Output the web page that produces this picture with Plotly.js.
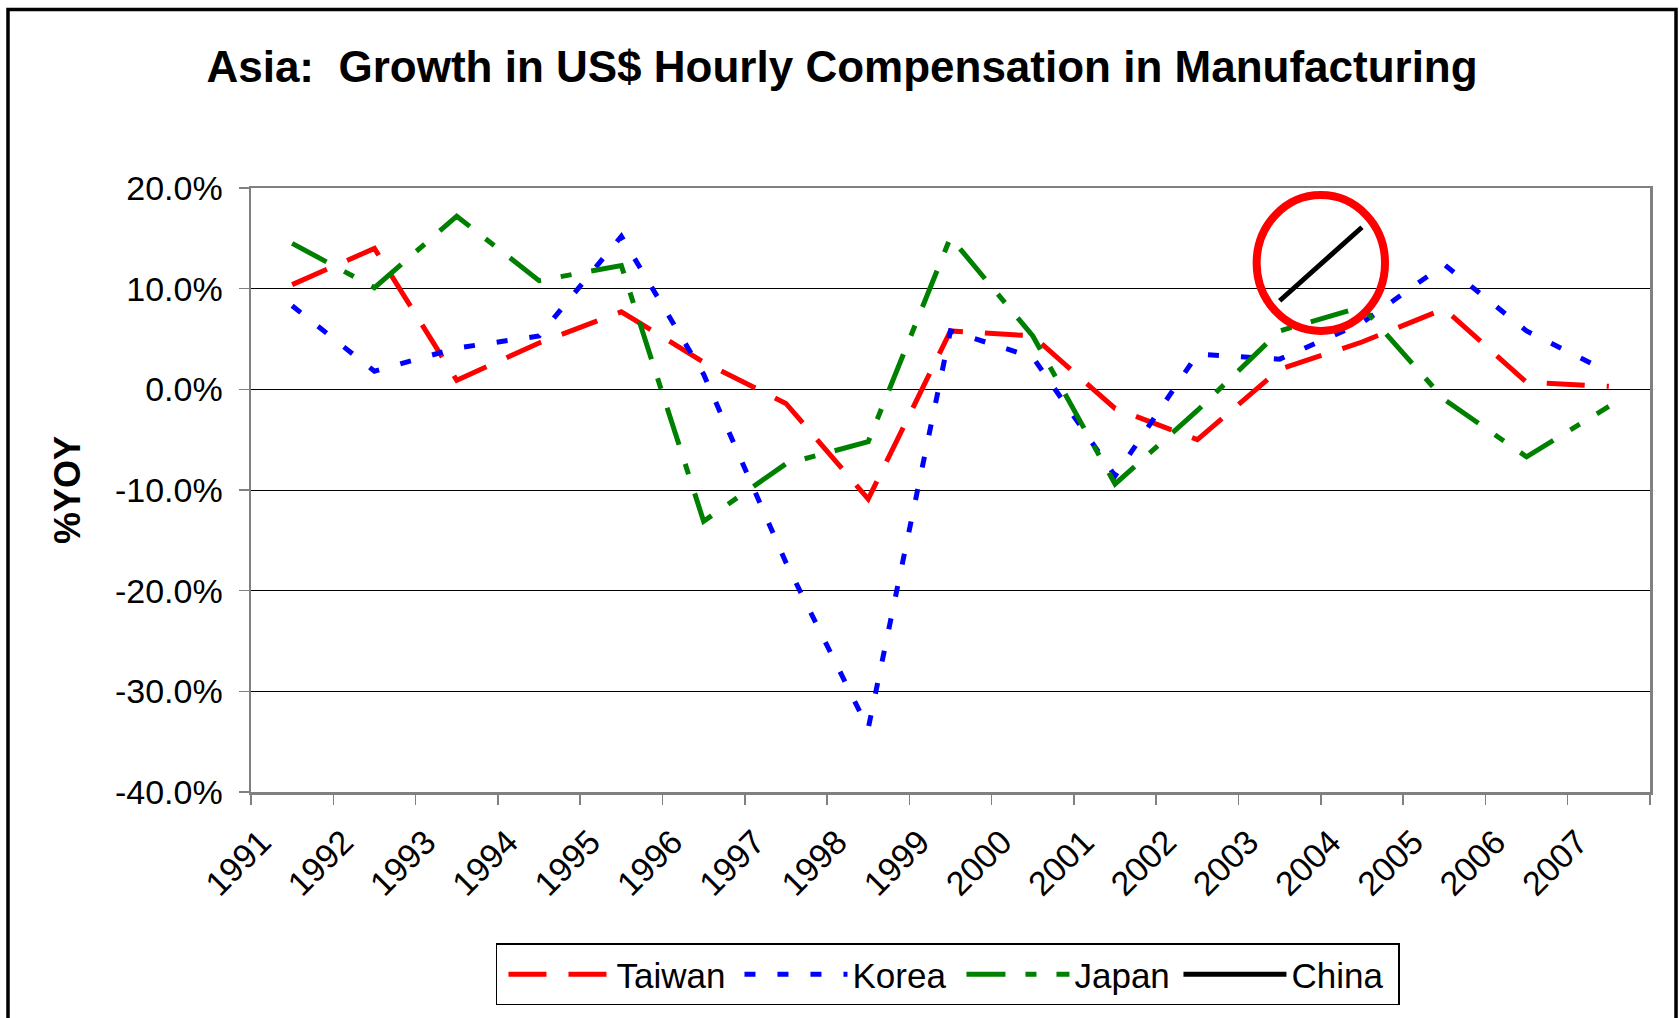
<!DOCTYPE html>
<html>
<head>
<meta charset="utf-8">
<script src="https://cdn.plot.ly/plotly-3.0.1.min.js"></script>
<style>
  html, body { margin: 0; padding: 0; background: #ffffff; }
  #chart { width: 1679px; height: 1018px; }
</style>
</head>
<body>
<div id="chart"></div>
<script>
// ---- data (percent YoY growth) ----
var years = ['1991','1992','1993','1994','1995','1996','1997','1998','1999','2000','2001','2002','2003','2004','2005','2006','2007'];
var taiwan = [10.4, 14.0, 0.9, 4.6, 7.7, 2.7, -1.4, -10.9, 5.8, 5.3, -1.9, -5.0, 2.0, 4.7, 8.0, 0.7, 0.3];
var korea  = [8.3, 1.8, 4.1, 5.3, 15.2, 1.5, -17.2, -33.7, 5.8, 3.2, -8.6, 3.5, 3.0, 6.6, 12.4, 5.8, 1.7];
var japan  = [14.5, 10.1, 17.2, 10.8, 12.3, -13.1, -7.4, -5.2, 15.1, 5.3, -9.4, -2.1, 5.8, 8.2, -1.0, -6.7, -1.7];
var china  = [null, null, null, null, null, null, null, null, null, null, null, null, 8.8, 16.1, null, null, null];

var yTickVals = [-40, -30, -20, -10, 0, 10, 20];
var yTickText = ['-40.0%', '-30.0%', '-20.0%', '-10.0%', '0.0%', '10.0%', '20.0%'];

var FONT = '"Liberation Sans", Arial, sans-serif';

function series(name, ys, color, dash, lw) {
  return {
    type: 'scatter', mode: 'lines', name: name,
    x: years, y: ys,
    connectgaps: false,
    line: { color: color, width: 5, dash: dash },
    legendwidth: lw,
    hoverinfo: 'skip'
  };
}

var traces = [
  series('Taiwan', taiwan, '#ff0000', '38px,22px', 112),
  series('Korea', korea, '#0000ff', '11px,22px', 98),
  series('Japan', japan, '#008000', '39px,20px,11px,20px', 93),
  series('China', china, '#000000', 'solid', 102)
];

var layout = {
  width: 1679, height: 1018,
  margin: { l: 251, r: 29, t: 188, b: 224 },
  paper_bgcolor: '#ffffff', plot_bgcolor: '#ffffff',
  font: { family: FONT, color: '#000000', size: 34 },
  showlegend: true,
  title: {
    text: '<b>Asia:  Growth in US$ Hourly Compensation in Manufacturing</b>',
    font: { family: FONT, size: 44, color: '#000000' },
    xref: 'container', yref: 'container',
    x: 0.5015, xanchor: 'center',
    y: 0.935, yanchor: 'middle'
  },
  xaxis: {
    type: 'category',
    range: [-0.5, 16.5],
    tickson: 'boundaries',
    ticks: 'outside', ticklen: 10, tickwidth: 1.5, tickcolor: '#808080',
    tickangle: -45,
    tickfont: { family: FONT, size: 34, color: '#000000' },
    ticklabelstandoff: 14,
    ticklabelshift: -31,
    showgrid: false,
    showline: true, linecolor: '#808080', linewidth: 2.5, mirror: true,
    zeroline: false,
    fixedrange: true
  },
  yaxis: {
    range: [-40, 20],
    tickvals: yTickVals, ticktext: yTickText,
    ticks: 'outside', ticklen: 10, tickwidth: 1.5, tickcolor: '#808080',
    tickfont: { family: FONT, size: 34, color: '#000000' },
    ticklabelstandoff: 9,
    showgrid: true, gridcolor: '#000000', gridwidth: 1,
    showline: true, linecolor: '#808080', linewidth: 2.5, mirror: true,
    zeroline: false,
    title: { text: '<b>%YOY</b>', font: { family: FONT, size: 36, color: '#000000' }, standoff: 24 },
    fixedrange: true
  },
  legend: {
    orientation: 'h',
    x: 0.1751, xanchor: 'left',
    y: -0.2508, yanchor: 'top',
    bordercolor: '#000000', borderwidth: 1.5,
    bgcolor: '#ffffff',
    font: { family: FONT, size: 35, color: '#000000' },
    itemwidth: 103,
    indentation: 6,
    traceorder: 'normal'
  },
  shapes: [
    // outer chart frame
    { type: 'rect', xref: 'paper', yref: 'paper',
      x0: -0.1737, x1: 1.0186, y0: -0.3894, y1: 1.2954,
      line: { color: '#000000', width: 3.5 }, fillcolor: 'rgba(0,0,0,0)', layer: 'below' },
    // red highlight ring around China
    { type: 'circle', xref: 'x', yref: 'y',
      x0: 11.72, x1: 13.28, y0: 5.8, y1: 19.3,
      line: { color: '#ff0000', width: 8 }, fillcolor: 'rgba(0,0,0,0)', layer: 'above' }
  ]
};

Plotly.newPlot('chart', traces, layout, { displayModeBar: false, staticPlot: true });
</script>
</body>
</html>
